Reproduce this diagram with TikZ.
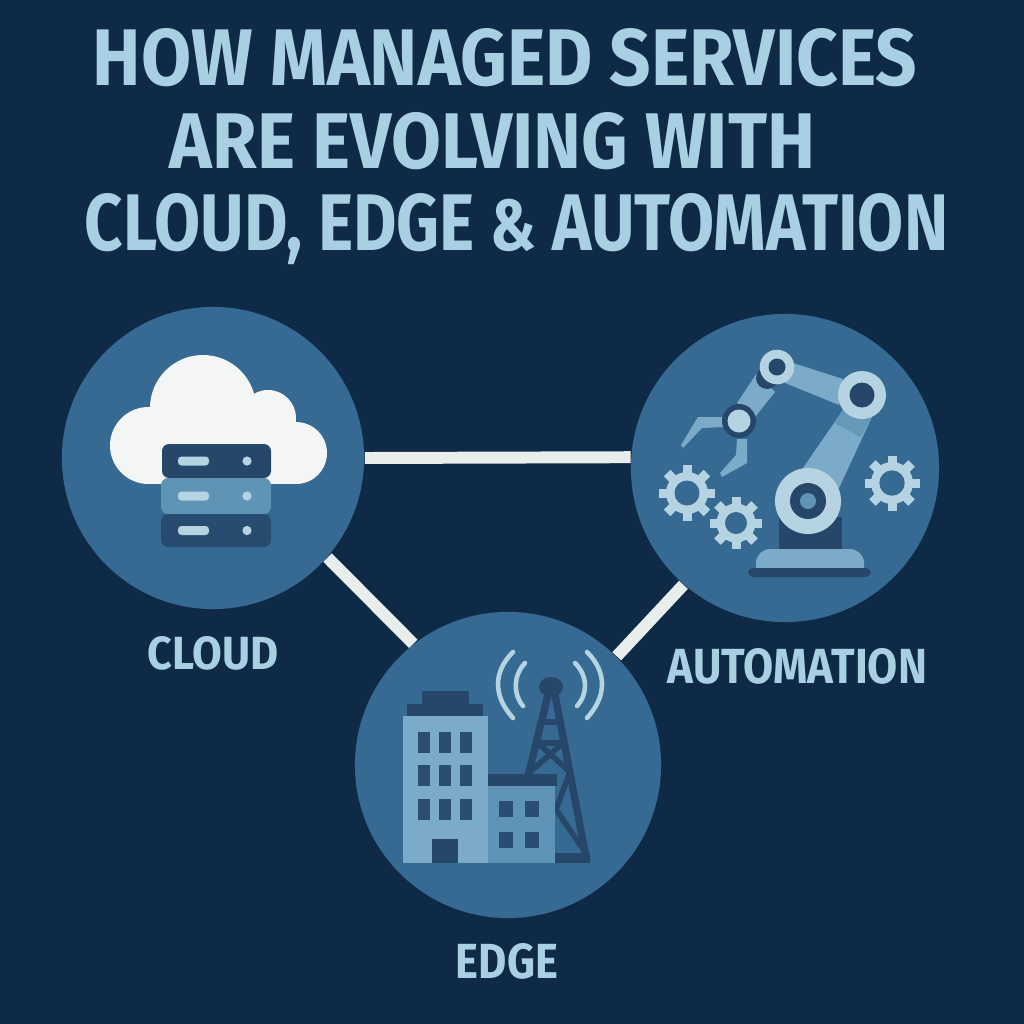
\documentclass[tikz,border=0pt]{standalone}
\usepackage{fontspec}
\usetikzlibrary{positioning,calc,backgrounds}
\setmainfont{Fira Sans}
\definecolor{pagebg}{HTML}{0F2A46}
\definecolor{disc}{HTML}{366A93}
\definecolor{ink}{HTML}{A9CFE2}
\definecolor{bar}{HTML}{E8EEEC}
\definecolor{deep}{HTML}{264769}
\definecolor{mid}{HTML}{5F94B6}
\definecolor{soft}{HTML}{7BABC8}
\definecolor{pale}{HTML}{B6D3E1}
\definecolor{armshade}{HTML}{6699B8}
\definecolor{puff}{HTML}{F3F6F4}
\tikzset{
  hub/.style={circle, fill=disc, minimum size=#1, inner sep=0pt},
  link/.style={draw=bar, line width=3.4pt},
  fitted/.style={text=ink, inner sep=0pt, anchor=base},
  wave/.style={draw=pale, line width=1.3pt, line cap=round},
  strut/.style={draw=deep, line width=2.1pt},
  thinstrut/.style={draw=deep, line width=1.6pt}
}
% text squeezed to a given width and cap height
\newcommand{\fittext}[3]{\resizebox{#1}{#2}{\bfseries #3}}
% one gear: centre, outer radius, ring radius, hole radius
\newcommand{\gearicon}[4]{
  \foreach \a in {0,45,...,315}
    \fill[pale, rotate around={\a:(#1)}] ($(#1)+(-4.5,-#2)$) rectangle ($(#1)+(4.5,#2)$);
  \fill[pale] (#1) circle (#3);
  \fill[disc] (#1) circle (#4);
}
\newcommand{\serverrow}[4]{
  \fill[#4, rounded corners=2pt] (#1,#2) rectangle (271,#3);
  \fill[pale, rounded corners=1pt] (178,{(#2+#3)/2-4.5}) rectangle (209,{(#2+#3)/2+4.5});
  \fill[pale] (247,{(#2+#3)/2}) circle (4.6);
}
\begin{document}
\begin{tikzpicture}[x=0.01cm, y=-0.01cm]
\useasboundingbox (0,0) rectangle (1024,1024);
\node (t1) [fitted] at (505,86) {\fittext{8.24cm}{0.57cm}{HOW MANAGED SERVICES}};
\node (t2) [fitted] at (492.5,168) {\fittext{6.45cm}{0.56cm}{ARE EVOLVING WITH}};
\node (t3) [fitted] at (516.5,250) {\fittext{8.63cm}{0.57cm}{CLOUD, EDGE \scalebox{0.9}{\&} AUTOMATION}};
\node (cloud) [hub=3.02cm] at (213,458) {};
\node (auto) [hub=3.08cm] at (785,468) {};
\node (edge) [hub=3.06cm] at (508,765) {};
\node (cloudtext) [fitted] at (213,669) {\fittext{1.31cm}{0.33cm}{CLOUD}};
\node (autotext) [fitted] at (797.5,683) {\fittext{2.59cm}{0.35cm}{AUTOMATION}};
\node (edgetext) [fitted] at (507,978) {\fittext{1.02cm}{0.35cm}{EDGE}};
\begin{scope}[on background layer]
\fill[pagebg] (0,0) rectangle (1024,1024);
\draw[link] (cloud.east) -- (auto.176.3);
\draw[link] (cloud.-41) -- (edge.128);
\draw[link] (auto.229.5) -- (edge.45.8);
\end{scope}
% cloud icon
\fill[puff] (148.5,445.5) circle (38.5);
\fill[puff] (203,408) circle (53);
\fill[puff] (268,418) circle (28);
\fill[puff] (296,453) circle (31);
\fill[puff] (148,420) rectangle (296,484);
\serverrow{162}{444}{478}{deep}
\serverrow{161}{478}{514}{mid}
\serverrow{161}{514}{547}{deep!85!disc}
% robot arm
\fill[soft, rounded corners=4pt] (756,575) -- (756,549) -- (864,549) -- (864,575);
\fill[deep, rounded corners=1.5pt] (748,568) rectangle (871,577);
\fill[deep] (779,517) rectangle (842,549);
\fill[soft] (803,468) -- (843,410) -- (872,417) -- (839,488) -- cycle;
\fill[armshade] (843,410) -- (872,417) -- (861,437) -- (834,423) -- cycle;
\fill[soft] (793,363) -- (843,379) -- (839,405) -- (785,383) -- cycle;
\fill[soft] (757,373) -- (775,392) -- (755,417) -- (737,403) -- cycle;
\fill[deep] (767,378) circle (11);
\fill[pale] (777,367) circle (17.3);
\fill[deep] (777,367) circle (8.5);
\fill[pale] (862,395) circle (24);
\fill[deep] (862,395) circle (12.5);
\fill[pale] (808,501) circle (33);
\fill[deep] (808,501) circle (18);
\fill[mid] (808,501) circle (8);
\fill[soft] (723,417) -- (698,417) -- (681,445) -- (683,448) -- (702,428) -- (723,427) -- cycle;
\fill[soft] (737,439) -- (747,439) -- (747,463) -- (722,477) -- (720,473) -- (736,455) -- cycle;
\fill[deep] (739,421) circle (17);
\fill[pale] (739,421) circle (11.5);
\gearicon{687,493}{28}{21}{12.5}
\gearicon{736,523}{26}{19.5}{11}
\gearicon{892,483}{27.5}{21}{12.7}
% tower behind the buildings
\fill[deep] (551,687) ellipse (12 and 10);
\draw[strut] (548,695) -- (528,776);
\draw[strut] (555,695) -- (587,862);
\draw[thinstrut] (541,722) -- (559,722);
\draw[thinstrut] (536,743) -- (564,743);
\draw[thinstrut] (538,743) -- (570,772);
\draw[thinstrut] (563,743) -- (530,772);
\draw[thinstrut] (570,772) -- (555,812);
\draw[thinstrut] (555,808) -- (585,852);
\fill[deep] (555,853) rectangle (590,863);
\draw[wave] (513,652) .. controls (493,672) and (493,696) .. (513,718);
\draw[wave] (525,663) .. controls (513,676) and (513,694) .. (523,706);
\draw[wave] (575,663) .. controls (588,676) and (588,694) .. (577,706);
\draw[wave] (587,652) .. controls (607,672) and (607,696) .. (587,718);
% buildings
\fill[soft] (403,716) rectangle (488,863);
\fill[deep] (407,704) rectangle (483,716);
\fill[deep] (422,691) rectangle (469,704);
\foreach \x in {418,439,460}
  \foreach \y in {732,765,799}
    \fill[deep!80!disc] (\x,\y) rectangle ++(11.5,21);
\fill[deep] (432,839) rectangle (458,863);
\fill[mid] (488,786) rectangle (555,863);
\fill[deep] (488,774) rectangle (557,786);
\foreach \x in {499,525}
  \foreach \y in {801,832}
    \fill[deep!80!disc] (\x,\y) rectangle ++(14,16);
\end{tikzpicture}
\end{document}
